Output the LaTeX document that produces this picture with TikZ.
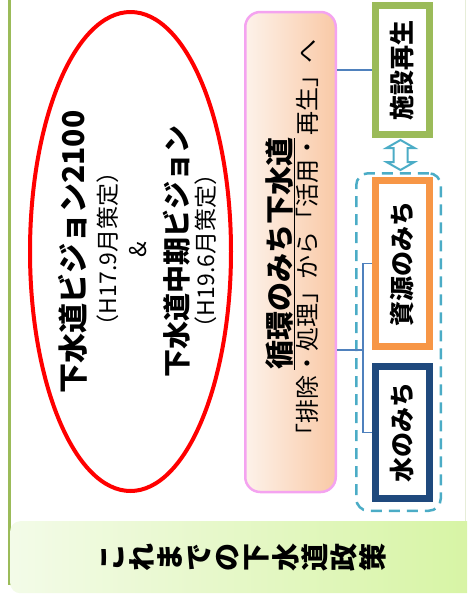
\documentclass[tikz,border=0pt]{standalone}
\usepackage{fontspec}
\setmainfont{Noto Sans CJK JP}
\usetikzlibrary{shapes.geometric,calc}
\definecolor{framegreen}{HTML}{9BBB59}
\definecolor{framefaint}{HTML}{E6EDD8}
\definecolor{planred}{HTML}{FF0000}
\definecolor{pinkline}{HTML}{F4A3F0}
\definecolor{peachlight}{HTML}{FDF2EA}
\definecolor{peach}{HTML}{F9C9A6}
\definecolor{resorange}{HTML}{F79646}
\definecolor{waterblue}{HTML}{1F497D}
\definecolor{linkblue}{HTML}{4F81BD}
\definecolor{groupcyan}{HTML}{4BACC6}
\definecolor{bannerlight}{HTML}{F3FBE8}
\definecolor{bannergreen}{HTML}{D6F4A2}

\begin{document}
\begin{tikzpicture}[x=1pt,y=-1pt,
    vtext/.style={rotate=90,inner sep=0pt},
    bigtext/.style={vtext,font=\fontsize{28}{30}\selectfont\bfseries},
    datetext/.style={vtext,font=\fontsize{23}{25}\selectfont},
    waybox/.style={rotate=90,draw,line width=7pt,fill=white,minimum height=54pt,inner sep=0pt,font=\fontsize{25}{27}\selectfont\bfseries},
    link/.style={draw=linkblue,line width=1.5pt}]

    \useasboundingbox (0,0) rectangle (467,598);
    \clip (0,0) rectangle (467,598);

    % frame
    \draw[framegreen,line width=2.5pt] (9.5,0) -- (9.5,585);
    \draw[framefaint,line width=1pt] (465,0) -- (465,521);

    % policies (ellipse)
    \node[ellipse,draw=planred,line width=4pt,minimum width=201pt,minimum height=479pt] (plan) at (130.5,251.5) {};
    \node[bigtext,font=\fontsize{30}{32}\selectfont\bfseries] (v1) at (73,252) {下水道ビジョン2100};
    \node[datetext] (v1date) at (108,249) {（H17.9月策定）};
    \node[datetext] (amp) at (138,250) {\&};
    \node[bigtext] (v2) at (177,251) {下水道中期ビジョン};
    \node[datetext] (v2date) at (206,251) {（H19.6月策定）};

    % junkan no michi
    \node[rounded corners=15pt,draw=pinkline,line width=2.5pt,left color=peachlight,right color=peach,minimum width=90.5pt,minimum height=480pt] (jk) at (290.5,252) {};
    \node[vtext,font=\fontsize{29}{31}\selectfont\bfseries] (jktitle) at (280,253.5) {\underline{循環のみち下水道}};
    \node[vtext,font=\fontsize{24}{26}\selectfont] (jksub) at (307,243) {「排除・処理」から「活用・再生」へ};

    % three ways
    \node[waybox,draw=framegreen,minimum width=129pt] (shisetsu) at (402.5,70) {施設再生};
    \node[draw=groupcyan,dash pattern=on 11pt off 7pt,line width=2.5pt,rounded corners=12pt,minimum width=84.5pt,minimum height=337.5pt] (grp) at (398.5,342) {};
    \node[waybox,draw=resorange,minimum width=166pt] (shigen) at (402.5,263.5) {資源のみち};
    \node[waybox,draw=waterblue,minimum width=132pt] (mizu) at (402.5,432.5) {水のみち};

    % hollow double arrow
    \coordinate (dblc) at ($(shisetsu.west)!0.5!(grp.north)$);
    \draw[groupcyan,line width=2pt] ($(dblc)+(0,-15)$) -- ++(14,8) -- ++(-7,0) -- ++(0,14) -- ++(7,0)
        -- ++(-14,8) -- ++(-14,-8) -- ++(7,0) -- ++(0,-14) -- ++(-7,0) -- cycle;

    \coordinate (jn) at (363,350);
    \draw[link] (jk.east |- shisetsu.center) -- (shisetsu.north);
    \draw[link] (jk.east |- jn) -- (jn);
    \draw[link] (shigen.north) -| (jn) |- (mizu.north);

    % banner
    \node[rounded corners=10pt,left color=bannerlight,right color=bannergreen,minimum width=480pt,minimum height=72pt,anchor=north west] (banner) at (10,521) {};
    \foreach \ch [count=\i] in {こ,れ,ま,で,の,下,水,道,政,策}
        \node[vtext,font=\fontsize{28}{30}\selectfont\bfseries] (ban\i) at ({98+28.9*(\i-0.5)},557) {\ch};
\end{tikzpicture}
\end{document}
